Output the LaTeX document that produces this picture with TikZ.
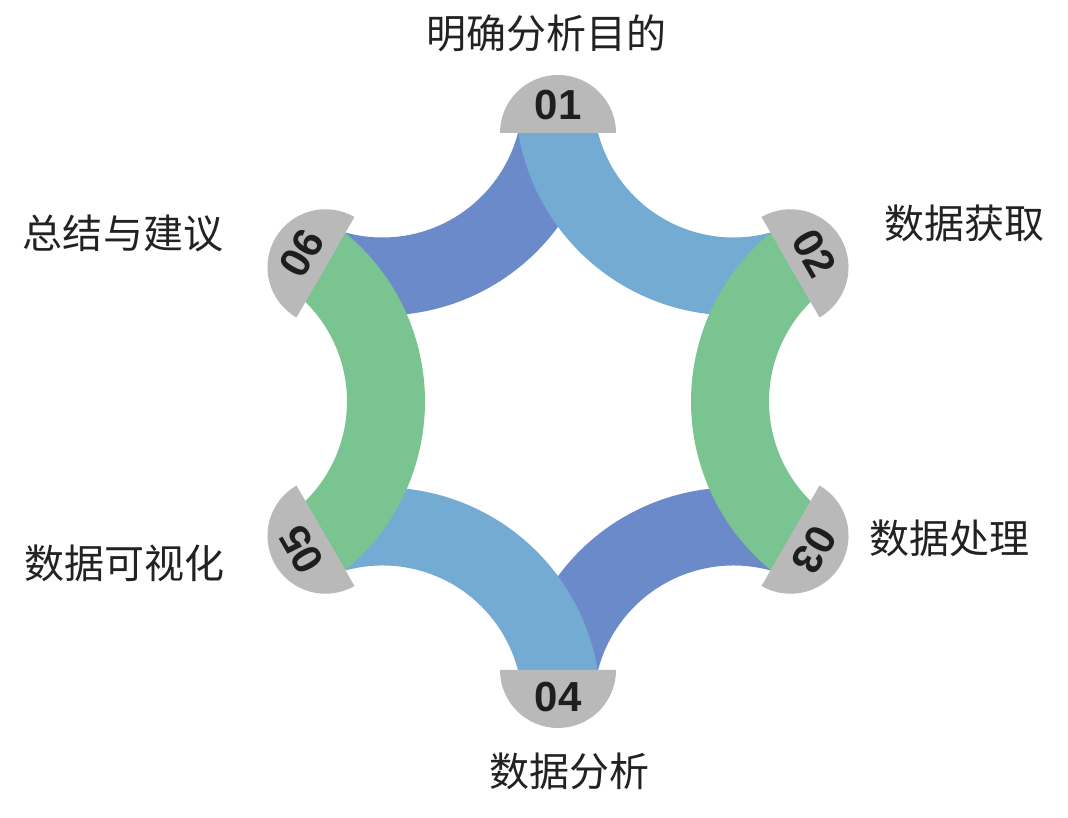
\documentclass[tikz,border=0pt]{standalone}
\usepackage{fontspec}
\setmainfont{Liberation Sans}
\newfontfamily\cjk{Noto Sans CJK SC}
\usetikzlibrary{calc}
\definecolor{lblue}{HTML}{73ABD3}
\definecolor{dblue}{HTML}{6B8ACA}
\definecolor{bgreen}{HTML}{7AC492}
\definecolor{capgray}{HTML}{B9B9B9}
\definecolor{numtext}{HTML}{1E1E1E}
\definecolor{labtext}{HTML}{222222}
\tikzset{
  numlabel/.style={font=\fontsize{42}{42}\selectfont\bfseries, text=numtext, inner sep=0pt},
  steplabel/.style={font=\cjk\fontsize{40}{48}\selectfont, text=labtext, inner sep=0pt},
  capfill/.style={fill=capgray},
}
% #1 = mid angle of band, #2 = colour
\newcommand\ringband[2]{%
  \fill[#2] ($(O)+(#1:351)+({#1+129.36}:218)$)
    arc[start angle={#1+129.36}, end angle={#1+230.64}, radius=218]
    -- ($(O)+(#1:351)+({#1+225.32}:140)$)
    arc[start angle={#1+225.32}, end angle={#1+134.68}, radius=140]
    -- cycle;}
% #1 = angle of cap
\newcommand\capdisc[1]{%
  \fill[capfill] ($(O)+(#1:268.5)+({#1-90}:58)$)
    arc[start angle={#1-90}, end angle={#1+90}, radius=58] -- cycle;}
\begin{document}
\begin{tikzpicture}[x=1pt,y=1pt]
\useasboundingbox (0,0) rectangle (1068,818);
\coordinate (O) at (558,416.5);
% bands
\ringband{120}{dblue}
\ringband{-60}{dblue}
\ringband{60}{lblue}
\ringband{-120}{lblue}
\ringband{0}{bgreen}
\ringband{180}{bgreen}
% caps
\capdisc{90}
\capdisc{30}
\capdisc{-30}
\capdisc{-90}
\capdisc{-150}
\capdisc{150}
% numbers
\node[numlabel] (n1) at ($(O)+(90:296)$) {01};
\node[numlabel, rotate=-60] (n2) at ($(O)+(30:296)$) {02};
\node[numlabel, rotate=-120] (n3) at ($(O)+(-30:296)$) {03};
\node[numlabel] (n4) at ($(O)+(-90:296)$) {04};
\node[numlabel, rotate=120] (n5) at ($(O)+(-150:296)$) {05};
\node[numlabel, rotate=60] (n6) at ($(O)+(150:296)$) {06};
% labels
\node[steplabel] (l1) at (546,785) {明确分析目的};
\node[steplabel] (l2) at (964,595) {数据获取};
\node[steplabel] (l3) at (949,280) {数据处理};
\node[steplabel] (l4) at (569,47) {数据分析};
\node[steplabel] (l5) at (124,255) {数据可视化};
\node[steplabel] (l6) at (123,585) {总结与建议};
\end{tikzpicture}
\end{document}
